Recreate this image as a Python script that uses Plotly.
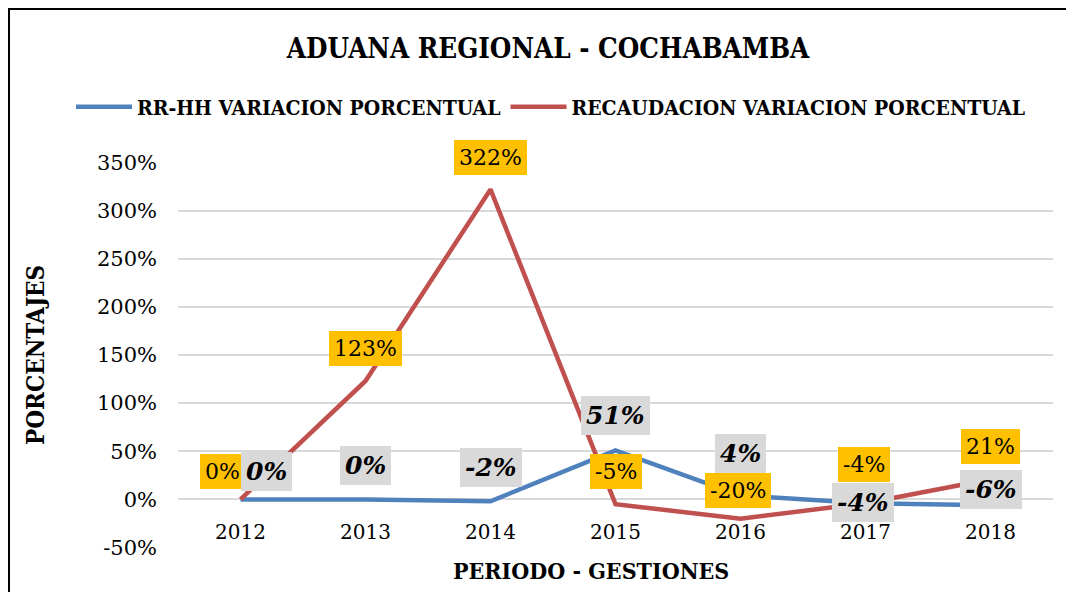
import plotly.graph_objects as go

years = ["2012", "2013", "2014", "2015", "2016", "2017", "2018"]
rrhh = [0, 0, -2, 51, 4, -4, -6]
recaudacion = [0, 123, 322, -5, -20, -4, 21]
series_names = ["RR-HH VARIACION PORCENTUAL", "RECAUDACION VARIACION PORCENTUAL"]
y_ticks = [-50, 0, 50, 100, 150, 200, 250, 300, 350]

# label offsets (px) for data labels
rrhh_shift = [(26, 27.5), (0, 34), (0, 34), (0, 34.5), (0, 42.5), (-3, 1), (0, 16)]
rec_shift = [(-18.5, 28), (0, 32.5), (0, 32), (0, 32.5), (-2.5, 28), (-1.5, 39), (0, 32.5)]

BLUE = "#4F81BD"
RED = "#C0504D"
SERIF = "DejaVu Serif"
COND = "DejaVu Serif Condensed"

L, R, T, B = 170, 29, 154, 52
PW, PH = 1074 - L - R, 592 - T - B

fig = go.Figure()
fig.add_trace(go.Scatter(x=years, y=rrhh, mode="lines", name=f"<b>{series_names[0]}</b>",
                         line=dict(color=BLUE, width=4.5)))
fig.add_trace(go.Scatter(x=years, y=recaudacion, mode="lines", name=f"<b>{series_names[1]}</b>",
                         line=dict(color=RED, width=4.5)))

annotations = []
for i, v in enumerate(recaudacion):
    dx, dy = rec_shift[i]
    annotations.append(dict(x=i, y=v, xref="x", yref="y", text=f"{v}%", showarrow=False,
                            xshift=dx, yshift=dy, bgcolor="#FFC000", borderpad=5, borderwidth=0,
                            font=dict(family=SERIF, size=22, color="black")))
for i, v in enumerate(rrhh):
    dx, dy = rrhh_shift[i]
    annotations.append(dict(x=i, y=v, xref="x", yref="y", text=f"<b><i>{v}%</i></b>", showarrow=False,
                            xshift=dx, yshift=dy, bgcolor="#D9D9D9", borderpad=5, borderwidth=0,
                            font=dict(family=SERIF, size=25, color="black")))

annotations.append(dict(text="<b>PORCENTAJES</b>", xref="paper", yref="paper", x=(27 - L) / PW, y=0.5,
                        textangle=-90, showarrow=False, xanchor="center", yanchor="middle",
                        font=dict(family=COND, size=24, color="black")))
annotations.append(dict(text="<b>PERIODO - GESTIONES</b>", xref="paper", yref="paper",
                        x=(583 - L) / PW, y=(540 - 562) / PH,
                        showarrow=False, xanchor="center", yanchor="middle",
                        font=dict(family=COND, size=23, color="black")))

fig.update_layout(
    width=1074, height=592,
    margin=dict(l=L, r=R, t=T, b=B, autoexpand=False),
    paper_bgcolor="white", plot_bgcolor="white",
    title=dict(text="<b>ADUANA REGIONAL - COCHABAMBA</b>", x=540 / 1074, xanchor="center",
               y=1 - 40 / 592, yanchor="middle",
               font=dict(family=COND, size=27.5, color="black")),
    legend=dict(orientation="h", x=(63 - L) / PW, xanchor="left", y=(540 - 99) / PH, yanchor="middle",
                font=dict(family=COND, size=21, color="black"), itemwidth=56,
                bgcolor="rgba(0,0,0,0)"),
    annotations=annotations,
    showlegend=True,
)
fig.update_xaxes(type="category", range=[-0.5, 6.5], showgrid=False, zeroline=False,
                 showline=False, ticks="", ticklabelstandoff=-30,
                 tickfont=dict(family=SERIF, size=20, color="black"))
fig.update_yaxes(range=[-50.5, 350.5], tickvals=y_ticks, ticktext=[f"{t}%" for t in y_ticks],
                 showgrid=True, gridcolor="#D9D9D9", gridwidth=2, zeroline=False,
                 showline=False, ticks="", ticklabelstandoff=20,
                 tickfont=dict(family=SERIF, size=21, color="black"))

# outer chart frame (top and left edges visible)
fig.add_shape(type="rect", xref="paper", yref="paper",
              x0=(1 - L) / PW, x1=(1100 - L) / PW,
              y0=(540 - 640) / PH, y1=(540 - 1) / PH,
              line=dict(color="black", width=2), fillcolor="rgba(0,0,0,0)", layer="below")

fig.write_html("out.html")
